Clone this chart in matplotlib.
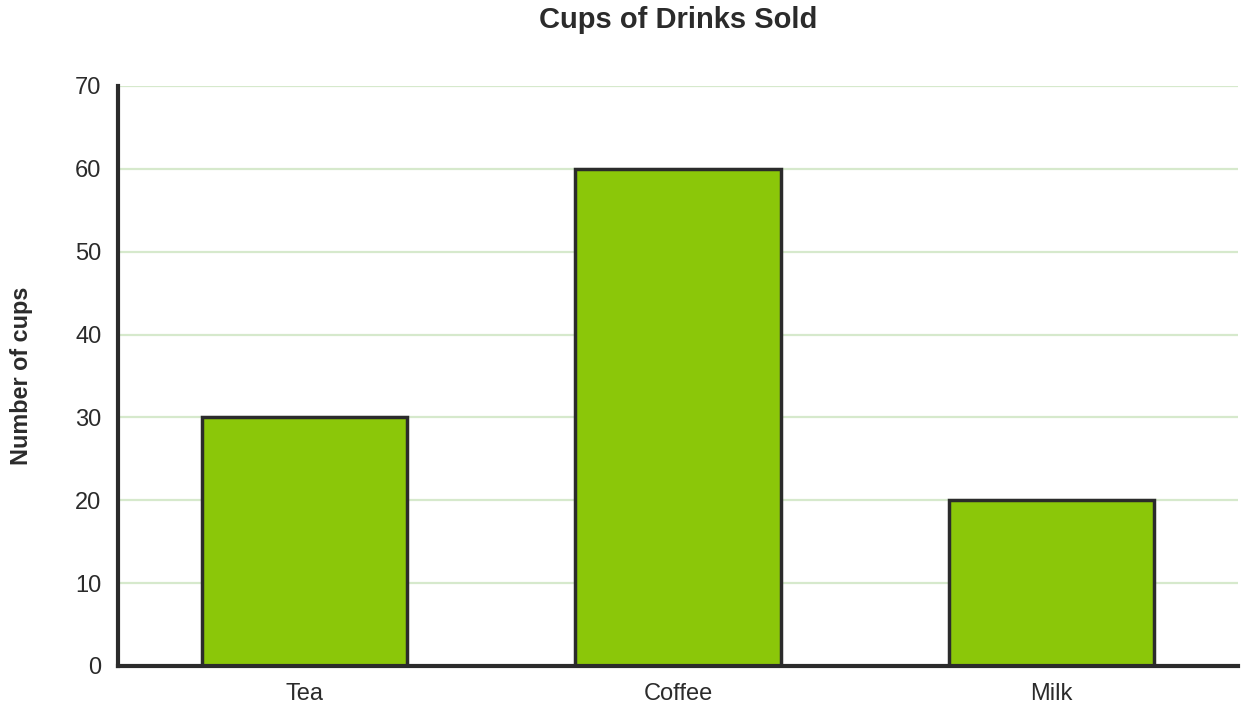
import matplotlib.pyplot as plt

drinks = ['Tea', 'Coffee', 'Milk']
cups = [30, 60, 20]
y_ticks = [0, 10, 20, 30, 40, 50, 60, 70]

plt.rcParams['font.family'] = ['Liberation Sans', 'DejaVu Sans']

fig = plt.figure(figsize=(12.46, 7.10), dpi=100)
ax = fig.add_axes([0.0947, 0.062, 0.899, 0.817])

ax.bar(range(len(drinks)), cups, width=0.55, color='#8bc709',
       edgecolor='#2b2b2b', linewidth=2.5, zorder=3)

ax.set_xlim(-0.5, len(drinks) - 0.5)
ax.set_ylim(0, 70)
ax.set_yticks(y_ticks)
ax.set_xticks(range(len(drinks)))
ax.set_xticklabels(drinks)
ax.tick_params(axis='both', length=0, labelsize=17, colors='#2b2b2b')
ax.tick_params(axis='y', pad=12)
ax.tick_params(axis='x', pad=12)

ax.grid(axis='y', color='#d6e9cc', linewidth=1.6, zorder=0)
for s in ['top', 'right']:
    ax.spines[s].set_visible(False)
for s in ['left', 'bottom']:
    ax.spines[s].set_color('#2b2b2b')
    ax.spines[s].set_linewidth(3)
    ax.spines[s].set_zorder(4)

ax.set_ylabel('Number of cups', fontsize=16.8, fontweight='bold',
              color='#2b2b2b', labelpad=30)
fig.text(0.544, 0.972, 'Cups of Drinks Sold', ha='center', va='center',
         fontsize=21, fontweight='bold', color='#2b2b2b')

fig.savefig('out.png', dpi=100)
